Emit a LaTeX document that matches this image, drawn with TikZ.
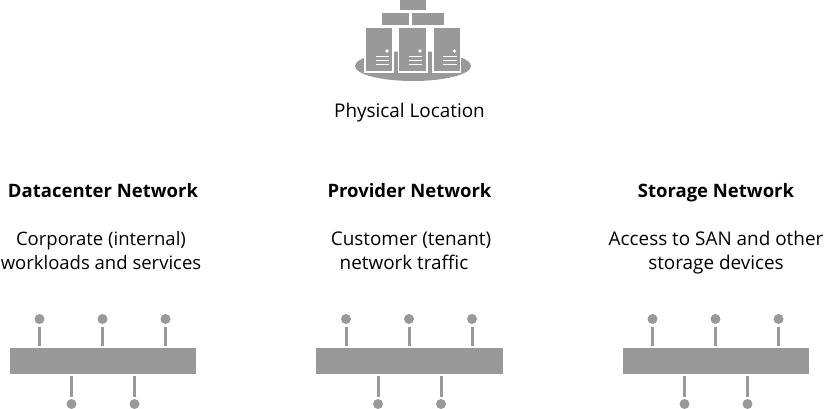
\documentclass[tikz,border=0pt]{standalone}
\usepackage{fontspec}
\setmainfont{Open Sans}
\definecolor{netgray}{RGB}{153,153,153}
\tikzset{
  x=1pt,y=-1pt,
  label text/.style={font=\fontsize{18.9pt}{24pt}\selectfont,text=black,align=center,inner sep=0pt},
  head text/.style={label text,font=\fontsize{18.5pt}{24pt}\selectfont\bfseries},
  busbar/.style={fill=netgray,draw=none,minimum width=186.5pt,minimum height=26pt,inner sep=0pt,outer sep=0pt},
  pin/.style={circle,fill=netgray,draw=none,minimum size=10pt,inner sep=0pt,outer sep=0pt},
  stub/.style={draw=netgray,line width=3pt,shorten >=2pt,shorten <=2.5pt},
  box/.style={fill=netgray,draw=none},
  rack/.style={fill=netgray,draw=white,line width=1.2pt},
  vent/.style={draw=white,line width=1.1pt}
}
% One network segment: a bus bar with three pins above and two below
\newcommand{\netseg}[3]{%
  \node[busbar] (#1bar) at (#2+93.25,361) {};
  \foreach \n/\dx in {a/30,b/93,c/156}{
    \node[pin] (#1\n) at (#3+\dx,319) {};
    \draw[stub] (#1\n) -- (#1\n |- #1bar.north);
  }
  \foreach \n/\dx in {d/62,e/125}{
    \node[pin] (#1\n) at (#3+\dx,404) {};
    \draw[stub] (#1\n) -- (#1\n |- #1bar.south);
  }
}
\begin{document}
\begin{tikzpicture}
\useasboundingbox (0,0) rectangle (824,409);
% Server group on its platform
\fill[netgray] (413,66) ellipse [x radius=58, y radius=15];
\fill[box] (400,-1) rectangle (426,10);
\fill[box] (382,13) rectangle (409,25);
\fill[box] (412,13) rectangle (444,25);
\foreach \l/\r/\dotx in {365/393/387,398.5/427/420,433/460.5/454.5}{
  \draw[rack] (\l,27.5) rectangle (\r,72);
  \fill[white] (\dotx,51) circle (1.8);
  \foreach \yy in {56.5,60.5,64.5}
    \draw[vent] (\dotx-11.5,\yy) -- (\dotx+2,\yy);
}
\node[label text] (loc) at (409.5,112.5) {\strut Physical Location};
% Column headings
\node[head text] (h1) at (103,192.5) {\strut Datacenter Network};
\node[head text] (h2) at (409.5,192.5) {\strut Provider Network};
\node[head text] (h3) at (716,192.5) {\strut Storage Network};
% Column descriptions
\node[label text,font=\fontsize{18.5pt}{24pt}\selectfont] (d1) at (101,252.5) {\strut Corporate (internal)\\\strut workloads and services};
\node[label text] (d2) at (411,252.5) {\strut Customer (tenant)\\\strut network traffic\hspace*{14pt}};
\node[label text] (d3) at (716,252.5) {\strut Access to SAN and other\\\strut storage devices};
% Network segments
\netseg{p}{9.5}{9.5}
\netseg{q}{316}{316}
\netseg{r}{622.5}{622.5}
\end{tikzpicture}
\end{document}
